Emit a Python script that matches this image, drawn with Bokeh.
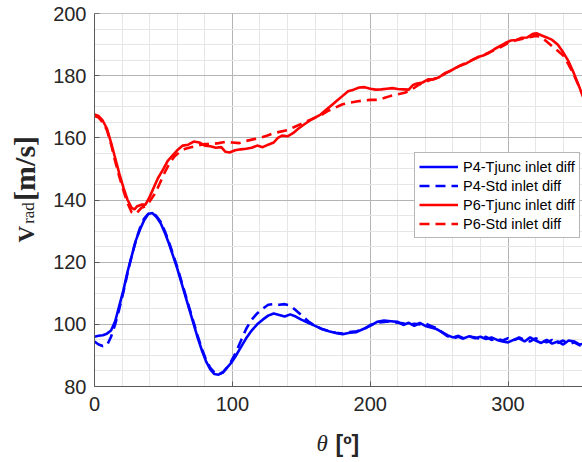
import math
from bokeh.plotting import figure
from bokeh.layouts import column, row
from bokeh.models import Range1d, SingleIntervalTicker, Legend, LegendItem, Span
from bokeh.core.properties import value
from bokeh.embed import file_html
from bokeh.resources import INLINE

# ---------------- data ----------------
x_ticks = [0, 100, 200, 300]
y_ticks = [80, 100, 120, 140, 160, 180, 200]

p4_tjunc_theta = [0, 3, 6, 9, 12, 15, 18, 21, 24, 27, 30, 33, 36, 39, 42, 45, 48, 51, 54, 57,
                  60, 63, 66, 69, 72, 75, 78, 81, 84, 87, 90, 93, 96, 99, 102, 106, 110, 114, 118, 122,
                  126, 130, 134, 138, 142, 146, 150, 155, 160, 165, 170, 175, 180, 185, 190, 195, 200, 205, 210, 215,
                  220, 224, 228, 232, 236, 240, 244, 248, 252, 256, 260, 264, 268, 272, 276, 280, 284, 288, 292, 296,
                  300, 304, 308, 312, 316, 320, 324, 328, 332, 336, 340, 344, 348, 352, 355]
p4_tjunc_v = [96, 96.3, 96.5, 97, 98, 101, 106, 111, 117, 122, 127, 130.5, 133.5, 135.5, 135.8, 134.5, 132.5, 129.5, 126, 122,
              118, 113.5, 109, 104.5, 100, 95.5, 91.5, 88, 85.5, 84, 83.8, 84.5, 86, 87.5, 89.5, 92.5, 95.5, 98, 100, 101.5,
              102.8, 103.5, 103, 102.5, 103.2, 102.5, 101.5, 100.5, 99.5, 98.5, 97.8, 97.2, 96.8, 97.3, 97.5, 98.5, 99.5, 100.8, 101.2, 101,
              100.8, 99.8, 100.5, 99.5, 100.5, 99.5, 99, 98.5, 97.5, 96.5, 95.8, 96.3, 95.5, 96.2, 95.5, 96, 95.3, 95.8, 95, 94.5,
              94.2, 95, 95.5, 94.5, 95.8, 94.8, 94, 95, 93.8, 94.5, 93.5, 94.8, 94.5, 93.5, 93.8]

p4_std_theta = [0, 3, 6, 9, 12, 15, 18, 21, 24, 27, 30, 33, 36, 39, 42, 45, 48, 51, 54, 57,
                60, 63, 66, 69, 72, 75, 78, 81, 84, 87, 90, 93, 96, 99, 102, 106, 110, 114, 118, 122,
                126, 130, 134, 138, 142, 146, 150, 155, 160, 165, 170, 175, 180, 185, 190, 195, 200, 205, 210, 215,
                220, 224, 228, 232, 236, 240, 244, 248, 252, 256, 260, 264, 268, 272, 276, 280, 284, 288, 292, 296,
                300, 304, 308, 312, 316, 320, 324, 328, 332, 336, 340, 344, 348, 352, 355]
p4_std_v = [94.5, 93.5, 93, 93.2, 96, 100, 105, 110.5, 116.5, 122, 127, 131, 134, 135.5, 136, 134.8, 133, 130, 126.5, 122.5,
            118.5, 114, 109.5, 105, 100.5, 96, 92, 88.5, 86, 84.5, 84, 84.5, 86, 88, 90.5, 94.5, 98.5, 101.5, 103.5, 105,
            106.3, 106.5, 106.3, 106.5, 106, 104.5, 103, 101, 99.5, 98.5, 97.8, 97.3, 97, 97.5, 97.8, 98.3, 99.8, 100.5, 100.8, 101,
            100.5, 100.3, 99.8, 100.2, 100, 100.3, 99.5, 98.8, 97.5, 96.2, 95.5, 96, 95.2, 96, 95.8, 95.2, 96, 95, 95.5, 94.8,
            95.5, 94.8, 95.8, 95, 94.5, 95.5, 94.8, 94.2, 95, 94, 94.8, 93.5, 94.2, 93.2, 93.5]

p6_tjunc_theta = [0, 3, 6, 9, 12, 15, 18, 21, 24, 27, 29, 31, 34, 37, 40, 43, 46, 50, 53, 57,
                  60, 64, 68, 72, 76, 80, 84, 88, 92, 95, 98, 102, 106, 110, 114, 118, 122, 126, 130, 133,
                  136, 140, 144, 148, 152, 156, 160, 164, 168, 172, 176, 180, 184, 188, 192, 196, 200, 204, 208, 212,
                  216, 220, 224, 228, 231, 234, 238, 242, 246, 250, 254, 258, 262, 266, 270, 274, 278, 282, 286, 290,
                  294, 298, 302, 306, 310, 314, 318, 321, 324, 328, 332, 336, 340, 344, 348, 352, 355]
p6_tjunc_v = [167.5, 167, 165.5, 163, 158.5, 153.5, 148.5, 144, 140, 137.5, 137, 138, 138.5, 138.5, 141, 144, 147, 150, 152.5, 154.5,
              156, 157.5, 157.8, 158.8, 158.5, 157.5, 157.3, 156.8, 157, 155.5, 155.3, 156, 156.3, 156.5, 156.8, 157.5, 157, 157.8, 158.5, 160,
              160.7, 160.5, 161.5, 163, 164.3, 165.5, 166.5, 167.5, 169, 170.5, 172, 173.5, 175, 175.5, 176.2, 176.3, 175.8, 175.5, 175.6, 175.8,
              176, 175.7, 175.6, 175.5, 177, 177.5, 177.8, 178.8, 178.8, 179.5, 180.8, 181.5, 182.5, 183.3, 184, 185, 186, 186.5, 187.3, 188.5,
              189.5, 190.5, 191.3, 191.5, 192.2, 192.3, 193.5, 193.6, 193, 192.3, 191.5, 190, 187.5, 184.5, 180.5, 176, 172.5]

p6_std_theta = [0, 3, 6, 9, 12, 15, 18, 21, 24, 27, 29, 31, 34, 37, 40, 43, 46, 50, 54, 58,
                62, 66, 70, 75, 80, 85, 90, 95, 100, 105, 110, 115, 120, 125, 130, 135, 140, 145, 150, 155,
                160, 165, 170, 175, 180, 185, 190, 195, 200, 205, 210, 215, 220, 225, 230, 235, 240, 245, 250, 255,
                260, 265, 270, 275, 280, 285, 290, 295, 300, 305, 310, 315, 320, 324, 328, 332, 336, 340, 344, 348,
                352, 355]
p6_std_v = [167, 166.5, 165, 162.5, 158, 152.5, 147.5, 143, 139, 136, 135.5, 136, 137.5, 138, 139.5, 141.5, 144, 148, 151.5, 154,
            155.5, 156.5, 157, 157.5, 158, 158, 158.3, 158.7, 158.5, 158.3, 159, 159.5, 160, 160.7, 161.5, 162, 162.5, 163.5, 164.5, 165.5,
            166.5, 167.5, 168.8, 169.8, 170.8, 171.3, 171.7, 172, 172.2, 172.2, 172.8, 173.5, 174, 174.5, 175.5, 177, 178, 178.8, 179.5, 180.8,
            182, 183.2, 184.2, 185.3, 186.2, 187.2, 188.2, 189.3, 190.5, 191.3, 191.8, 192.3, 192.8, 192.5, 191, 189.5, 188, 186.5, 183.5, 180,
            176, 173]

series_names = ["P4-Tjunc inlet diff", "P4-Std inlet diff", "P6-Tjunc inlet diff", "P6-Std inlet diff"]

AX = "#262626"

# ---------------- main chart ----------------
p = figure(width=542, height=422, x_range=Range1d(0, 354), y_range=Range1d(80, 200),
           output_backend="svg", toolbar_location=None,
           min_border_left=54, min_border_right=0, min_border_top=13, min_border_bottom=36)
p.outline_line_color = None

xt = SingleIntervalTicker(interval=100, num_minor_ticks=5)
yt = SingleIntervalTicker(interval=20, num_minor_ticks=4)
p.xaxis.ticker = xt
p.yaxis.ticker = yt
p.xgrid.ticker = xt
p.ygrid.ticker = yt

for g in (p.xgrid, p.ygrid):
    g.grid_line_color = "#b4b4b4"
    g.grid_line_width = 1
    g.minor_grid_line_color = "#e6e6e6"
    g.minor_grid_line_width = 1

for ax in (p.xaxis, p.yaxis):
    ax.axis_line_color = "#5a5a5a"
    ax.major_tick_line_color = "#5a5a5a"
    ax.major_tick_in = 5
    ax.major_tick_out = 0
    ax.minor_tick_in = 0
    ax.minor_tick_out = 0
    ax.major_label_text_font = "Liberation Sans"
    ax.major_label_text_font_size = "20px"
    ax.major_label_text_color = AX
    ax.axis_label = None
p.xaxis.major_label_standoff = 10
p.yaxis.major_label_standoff = 8

p.add_layout(Span(location=200, dimension="width", line_color="#8a8a8a", line_width=1))

r1 = p.line(p4_tjunc_theta, p4_tjunc_v, line_color="#0000ff", line_width=2.6)
r2 = p.line(p4_std_theta, p4_std_v, line_color="#0000ff", line_width=2.6, line_dash="10 6")
r3 = p.line(p6_tjunc_theta, p6_tjunc_v, line_color="#ff0000", line_width=2.6)
r4 = p.line(p6_std_theta, p6_std_v, line_color="#ff0000", line_width=2.6, line_dash="10 6")

legend = Legend(items=[LegendItem(label=series_names[0], renderers=[r1]),
                       LegendItem(label=series_names[1], renderers=[r2]),
                       LegendItem(label=series_names[2], renderers=[r3]),
                       LegendItem(label=series_names[3], renderers=[r4])],
                location=(320, 148), orientation="vertical",
                label_text_font="Liberation Sans", label_text_font_size="14.5px",
                label_text_color="#000000", glyph_width=39, glyph_height=19,
                label_height=19, label_standoff=5, spacing=0, padding=4, margin=0,
                border_line_color="#6e6e6e", border_line_width=1,
                background_fill_color="white", background_fill_alpha=1)
p.add_layout(legend)

# ---------------- y-axis title strip (pixel coordinates, y up) ----------------
yl = figure(width=40, height=422, x_range=Range1d(0, 40), y_range=Range1d(0, 422),
            output_backend="svg", toolbar_location=None, x_axis_type=None, y_axis_type=None,
            min_border_left=0, min_border_right=0, min_border_top=0, min_border_bottom=0)
yl.grid.visible = False
yl.outline_line_color = None
rot = math.pi / 2
yl.text(x=[26], y=[422 - 259], text=["V"], angle=rot, text_font=value("Liberation Serif"),
        text_font_style="bold", text_font_size="23px", text_color=AX,
        text_align="left", text_baseline="alphabetic")
yl.text(x=[28], y=[422 - 238], text=["rad"], angle=rot, text_font=value("Liberation Serif"),
        text_font_size="17px", text_color=AX, text_align="left", text_baseline="alphabetic")
yl.text(x=[24], y=[422 - 212], text=["[m/s]"], angle=rot, text_font=value("Liberation Serif"),
        text_font_style="bold", text_font_size="30px", text_color=AX,
        text_align="left", text_baseline="alphabetic")

# ---------------- x-axis title strip ----------------
xl = figure(width=582, height=40, x_range=Range1d(0, 582), y_range=Range1d(0, 40),
            output_backend="svg", toolbar_location=None, x_axis_type=None, y_axis_type=None,
            min_border_left=0, min_border_right=0, min_border_top=0, min_border_bottom=0)
xl.grid.visible = False
xl.outline_line_color = None
xl.text(x=[316], y=[19], text=["θ"], text_font=value("Liberation Serif"),
        text_font_style="italic", text_font_size="23px", text_color=AX,
        text_align="left", text_baseline="alphabetic")
xl.text(x=[335], y=[19], text=["[º]"], text_font=value("Liberation Sans"),
        text_font_style="bold", text_font_size="23px", text_color=AX,
        text_align="left", text_baseline="alphabetic")

layout = column(row(yl, p, spacing=0), xl, spacing=0)
open("out.html", "w").write(file_html(layout, INLINE))
